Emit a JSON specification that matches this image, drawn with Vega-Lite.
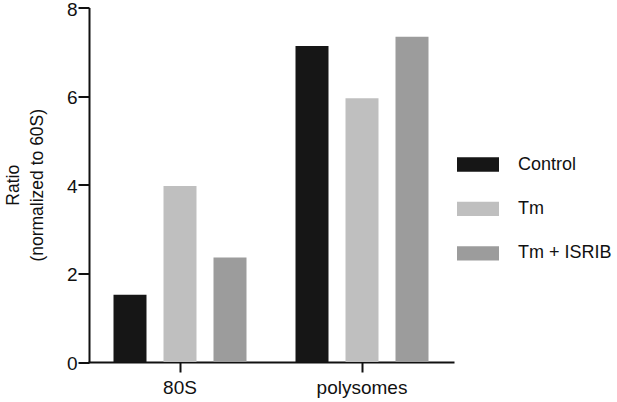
{
  "$schema": "https://vega.github.io/schema/vega-lite/v6.json",
  "width": 364,
  "height": 354.5,
  "autosize": {"type": "none"},
  "padding": {"left": 89, "top": 7.5, "right": 164, "bottom": 40},
  "background": "white",
  "config": {
    "view": {"stroke": null},
    "font": "Liberation Sans",
    "axis": {"grid": false, "domainColor": "#111", "domainWidth": 2, "tickColor": "#111", "tickWidth": 2, "labelColor": "#111", "titleColor": "#111", "labelFont": "Liberation Sans", "titleFont": "Liberation Sans"}
  },
  "data": {
    "values": [
      {"fraction": "80S", "condition": "Control", "ratio": 1.52},
      {"fraction": "80S", "condition": "Tm", "ratio": 3.97},
      {"fraction": "80S", "condition": "Tm + ISRIB", "ratio": 2.36},
      {"fraction": "polysomes", "condition": "Control", "ratio": 7.13},
      {"fraction": "polysomes", "condition": "Tm", "ratio": 5.95},
      {"fraction": "polysomes", "condition": "Tm + ISRIB", "ratio": 7.34}
    ]
  },
  "mark": {"type": "bar"},
  "encoding": {
    "x": {
      "field": "fraction",
      "type": "nominal",
      "sort": ["80S", "polysomes"],
      "scale": {"paddingInner": 0, "paddingOuter": 0},
      "axis": {"title": null, "labelAngle": 0, "labelFontSize": 19, "tickSize": 10, "labelPadding": 6, "domainCap": "square"}
    },
    "xOffset": {
      "field": "condition",
      "type": "nominal",
      "sort": ["Control", "Tm", "Tm + ISRIB"],
      "scale": {"paddingInner": 0.34, "paddingOuter": 0.49}
    },
    "y": {
      "field": "ratio",
      "type": "quantitative",
      "scale": {"domain": [0, 8], "nice": false},
      "axis": {"title": ["Ratio", "(normalized to 60S)"], "values": [0, 2, 4, 6, 8], "labelFontSize": 19, "labelOffset": 1.5, "titleFontSize": 17.5, "titleFontWeight": "normal", "tickSize": 11, "labelPadding": 1, "titlePadding": 20, "titleLineHeight": 24}
    },
    "color": {
      "field": "condition",
      "type": "nominal",
      "sort": ["Control", "Tm", "Tm + ISRIB"],
      "scale": {"domain": ["Control", "Tm", "Tm + ISRIB"], "range": ["#161616", "#bfbfbf", "#9c9c9c"]},
      "legend": {
        "title": null,
        "orient": "none",
        "legendX": 368,
        "legendY": 136,
        "symbolType": "M-1,-0.34L1,-0.34L1,0.34L-1,0.34Z",
        "symbolSize": 1764,
        "symbolStrokeWidth": 0,
        "symbolOpacity": 1,
        "labelFontSize": 18,
        "labelFont": "Liberation Sans",
        "labelColor": "#111",
        "labelOffset": 19,
        "rowPadding": 14.4
      }
    }
  }
}
